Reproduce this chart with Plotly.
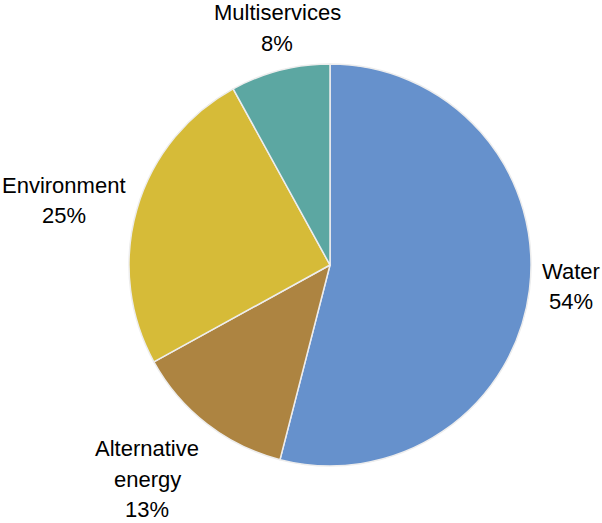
import math
import plotly.graph_objects as go

labels = ["Water", "Alternative energy", "Environment", "Multiservices"]
label_lines = [["Water"], ["Alternative", "energy"], ["Environment"], ["Multiservices"]]
values = [54, 13, 25, 8]
colors = ["#6691CC", "#AD8441", "#D6BB38", "#5CA7A2"]

W, H = 602, 523
CX, CY, R = 330, 265, 201  # pixels
FONT_SIZE = 22
PITCH = 30.5  # label line pitch, px

# approximate Liberation Sans advance widths (1/1000 em)
ADV = {"A": 667, "E": 667, "M": 833, "W": 944, "a": 556, "c": 500, "e": 556,
       "g": 556, "i": 222, "l": 222, "m": 833, "n": 556, "o": 556, "r": 333,
       "s": 500, "t": 278, "u": 556, "v": 500, "y": 500, "%": 889}


def text_w(t):
    return sum(ADV.get(ch, 556) for ch in t) / 1000 * FONT_SIZE


dom_x = [(CX - R) / W, (CX + R) / W]
dom_y = [1 - (CY + R) / H, 1 - (CY - R) / H]

fig = go.Figure(go.Pie(
    labels=labels,
    values=values,
    sort=False,
    direction="clockwise",
    rotation=0,
    marker=dict(colors=colors, line=dict(color="#EDEDED", width=1.5)),
    textinfo="none",
    hoverinfo="label+percent",
    domain=dict(x=dom_x, y=dom_y),
    showlegend=False,
))

total = sum(values)
cum = 0
annotations = []
for lines, v in zip(label_lines, values):
    mid = (cum + v / 2) / total * 2 * math.pi
    cum += v
    s, c = math.sin(mid), math.cos(mid)
    px = CX + R * 1.06 * s
    py = CY - R * 1.06 * c
    all_lines = lines + [f"{round(v / total * 100)}%"]
    block_h = len(all_lines) * PITCH
    widest = max(text_w(t) for t in all_lines)
    if s > 0.3:
        xc = px + widest / 2
    elif s < -0.3:
        xc = px - widest / 2
    else:
        xc = px
    if c > 0.3:
        top = py - block_h
    elif c < -0.3:
        top = py
    else:
        top = py - block_h / 2 - 5
    for i, ln in enumerate(all_lines):
        annotations.append(dict(
            x=xc / W, y=1 - (top + (i + 0.5) * PITCH) / H,
            xref="paper", yref="paper",
            text=ln, showarrow=False, xanchor="center", yanchor="middle",
            font=dict(family="Liberation Sans, Arial, sans-serif",
                      size=FONT_SIZE, color="#000000"),
        ))

fig.update_layout(
    width=W, height=H,
    margin=dict(l=0, r=0, t=0, b=0),
    paper_bgcolor="white",
    plot_bgcolor="white",
    annotations=annotations,
)

fig.write_html(
    "out.html",
    config={"displayModeBar": False},
    post_script="document.body.style.margin='0';document.body.style.overflow='hidden';",
)
